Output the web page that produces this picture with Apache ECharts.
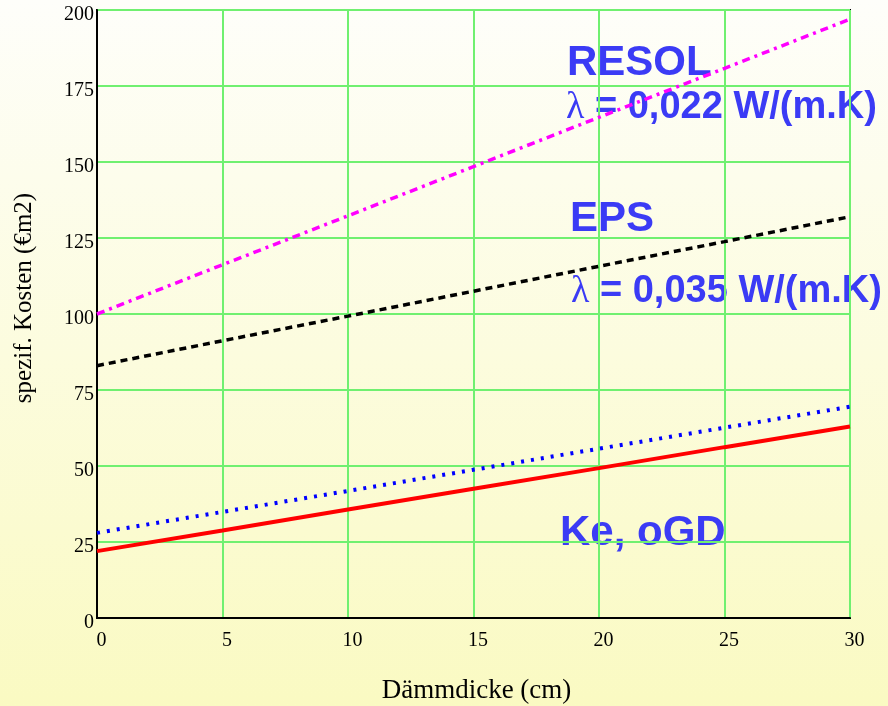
<!DOCTYPE html>
<html>
<head>
<meta charset="utf-8">
<script src="https://cdn.jsdelivr.net/npm/echarts@6/dist/echarts.min.js"></script>
<style>html,body{margin:0;padding:0;}#c{width:888px;height:706px;}</style>
</head>
<body>
<div id="c"></div>
<script>
const thickness = [0, 5, 10, 15, 20, 25, 30];
const resol = [100, 116.2, 132.3, 148.5, 164.7, 180.8, 197];
const eps = [83, 91.2, 99.3, 107.5, 115.7, 123.8, 132];
const blueDotted = [28, 34.9, 41.8, 48.75, 55.7, 62.6, 69.5];
const keOgd = [22, 28.8, 35.7, 42.5, 49.3, 56.2, 63];
const yTicks = [0, 25, 50, 75, 100, 125, 150, 175, 200];
const xTicks = [0, 5, 10, 15, 20, 25, 30];
const xTitle = 'Dämmdicke (cm)';
const yTitle = 'spezif. Kosten (€m2)';

const pair = (v) => thickness.map((x, i) => [x, v[i]]);
const blue = '#3b3bf5';
const chart = echarts.init(document.getElementById('c'));
const serif = 'Liberation Serif';
const labelRich = {l: {fontFamily: serif, fontWeight: 'normal', fontSize: 38, fill: blue, textFill: blue}};

function txt(x, y, text, size, rich) {
  return {
    type: 'text', left: x, top: y, z: -1, silent: true,
    style: {
      text: text, fill: blue, font: 'bold ' + size + 'px "Liberation Sans", Arial, sans-serif',
      fontFamily: '"Liberation Sans", Arial, sans-serif', fontWeight: 'bold', fontSize: size,
      rich: rich
    }
  };
}

chart.setOption({
  backgroundColor: {type: 'linear', x: 0, y: 0, x2: 0, y2: 1,
    colorStops: [{offset: 0, color: '#fefefa'}, {offset: 1, color: '#fafac2'}]},
  animation: false,
  grid: {left: 97, right: 38, top: 10, bottom: 88, show: true, borderColor: '#000', borderWidth: 2,
    backgroundColor: 'transparent', containLabel: false, outerBoundsMode: 'none'},
  xAxis: {
    type: 'value', min: xTicks[0], max: xTicks[xTicks.length - 1], interval: 5,
    name: xTitle, nameLocation: 'middle', nameGap: 59,
    nameTextStyle: {fontFamily: serif, fontSize: 27, color: '#000', padding: [0, 0, 0, 6]},
    axisLine: {lineStyle: {color: '#000', width: 2}},
    axisTick: {show: false},
    axisLabel: {fontFamily: serif, fontSize: 20, color: '#000', margin: 13, padding: [0, 0, 0, 9]},
    splitLine: {lineStyle: {color: '#70f070', width: 2}}
  },
  yAxis: {
    type: 'value', min: yTicks[0], max: yTicks[yTicks.length - 1], interval: 25,
    name: yTitle, nameLocation: 'middle', nameGap: 60, nameRotate: 90,
    nameTextStyle: {fontFamily: serif, fontSize: 25, color: '#000', padding: [0, 0, 0, 32]},
    axisLine: {lineStyle: {color: '#000', width: 2}},
    axisTick: {show: false},
    axisLabel: {fontFamily: serif, fontSize: 20, color: '#000', margin: 3, verticalAlign: 'top', lineHeight: 10},
    splitLine: {lineStyle: {color: '#70f070', width: 2}}
  },
  series: [
    {type: 'line', data: pair(resol), symbol: 'none', z: 3,
      lineStyle: {color: '#ff00ff', width: 3.5, type: [8, 5, 3, 5]}},
    {type: 'line', data: pair(eps), symbol: 'none', z: 3,
      lineStyle: {color: '#000000', width: 3.5, type: [7, 5]}},
    {type: 'line', data: pair(blueDotted), symbol: 'none', z: 3,
      lineStyle: {color: '#0000ff', width: 4, type: [3, 7]}},
    {type: 'line', data: pair(keOgd), symbol: 'none', z: 3,
      lineStyle: {color: '#ff0000', width: 4, type: 'solid'}}
  ],
  graphic: [
    txt(567, 42, 'RESOL', 42),
    txt(566, 89, '{l|λ} = 0,022 W/(m.K)', 38, labelRich),
    txt(570, 198, 'EPS', 42),
    txt(571, 273, '{l|λ} = 0,035 W/(m.K)', 38, labelRich),
    txt(560, 512, 'Ke, oGD', 42)
  ]
});
</script>
</body>
</html>
